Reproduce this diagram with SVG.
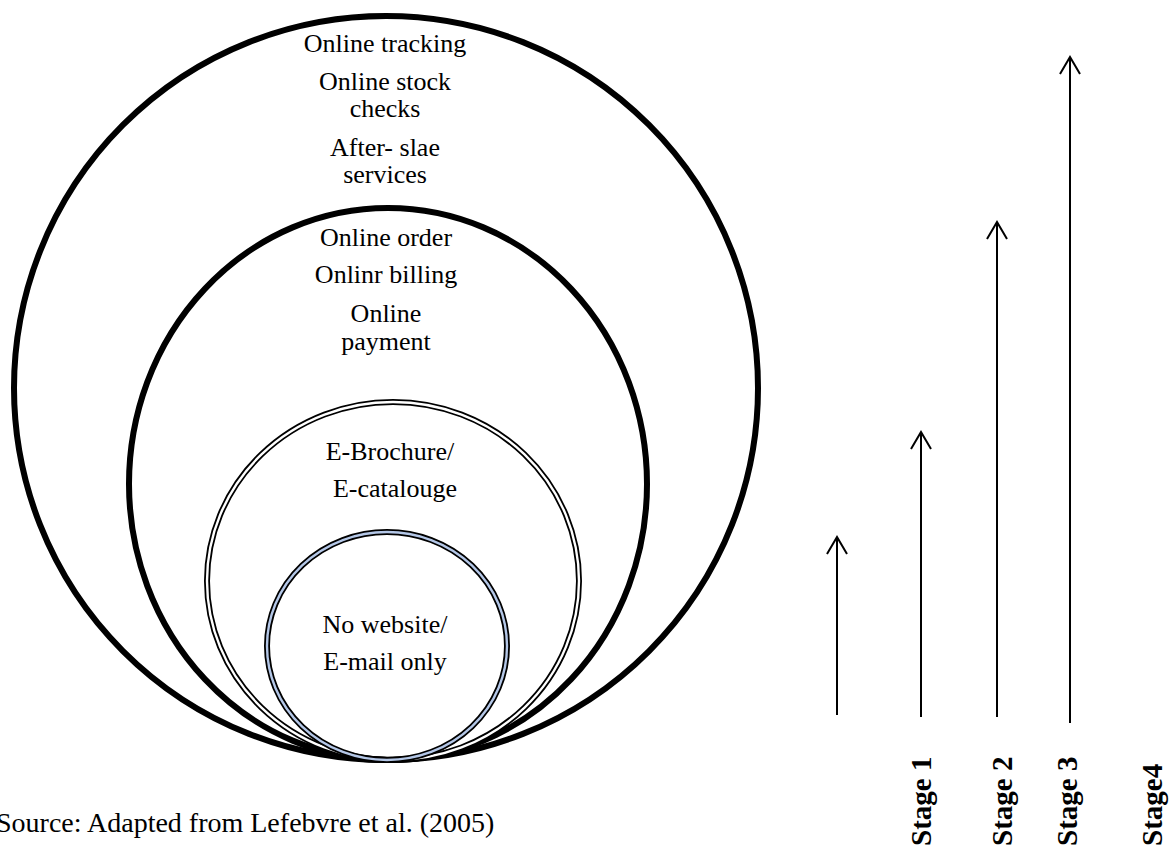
<svg xmlns="http://www.w3.org/2000/svg" width="1174" height="846" viewBox="0 0 1174 846">
  <defs>
    <marker id="ah" viewBox="0 0 20 22" refX="18" refY="11" markerWidth="20" markerHeight="22" markerUnits="userSpaceOnUse" orient="auto">
      <path d="M1,1 L18,11 L1,21" fill="none" stroke="#000" stroke-width="2"/>
    </marker>
  </defs>
  <style>
    text { font-family: "Liberation Serif", "Times New Roman", serif; font-size: 26px; fill: #000; }
    .c { text-anchor: middle; }
    .stage { font-weight: bold; font-size: 29px; }
    .src { font-size: 28px; }
    .thick { fill: none; stroke: #000; stroke-width: 6; }
    .arrow { fill: none; stroke: #000; stroke-width: 2; marker-end: url(#ah); }
  </style>
  <rect width="1174" height="846" fill="#fff"/>

  <g id="stage4-circle">
    <ellipse class="thick" cx="386" cy="388" rx="372" ry="372"/>
    <text class="c" x="385" y="52">Online tracking</text>
    <text class="c" x="385" y="90">Online stock</text>
    <text class="c" x="385" y="117">checks</text>
    <text class="c" x="385" y="156">After- slae</text>
    <text class="c" x="385" y="183">services</text>
  </g>

  <g id="stage3-circle">
    <ellipse class="thick" cx="388" cy="484" rx="259" ry="276"/>
    <text class="c" x="386" y="246">Online order</text>
    <text class="c" x="386" y="283">Onlinr billing</text>
    <text class="c" x="386" y="322">Online</text>
    <text class="c" x="386" y="350">payment</text>
  </g>

  <g id="stage2-circle">
    <ellipse cx="393" cy="581" rx="186" ry="179" fill="none" stroke="#000" stroke-width="6"/>
    <ellipse cx="393" cy="581" rx="186" ry="179" fill="none" stroke="#fff" stroke-width="2.4"/>
    <text class="c" x="390" y="460">E-Brochure/</text>
    <text class="c" x="395" y="497">E-catalouge</text>
  </g>

  <g id="stage1-circle">
    <ellipse cx="387" cy="646" rx="120" ry="114" fill="none" stroke="#000" stroke-width="6"/>
    <ellipse cx="387" cy="646" rx="120" ry="114" fill="none" stroke="#b4c7e7" stroke-width="2.4"/>
    <text class="c" x="385" y="633">No website/</text>
    <text class="c" x="385" y="670">E-mail only</text>
  </g>

  <g id="connectors">
    <line class="arrow" x1="837" y1="715" x2="837" y2="537" stroke-width="1.6"/>
    <line class="arrow" x1="921" y1="717" x2="921" y2="432"/>
    <line class="arrow" x1="997" y1="717" x2="997" y2="222"/>
    <line class="arrow" x1="1070" y1="723" x2="1070" y2="57"/>
  </g>

  <g id="stage-labels">
    <text class="stage" transform="translate(931,846) rotate(-90)">Stage 1</text>
    <text class="stage" transform="translate(1012,846) rotate(-90)">Stage 2</text>
    <text class="stage" transform="translate(1077,846) rotate(-90)">Stage 3</text>
    <text class="stage" transform="translate(1162,846) rotate(-90)">Stage4</text>
  </g>

  <g id="source">
    <text class="src" x="-4" y="832">Source: Adapted from Lefebvre et al. (2005)</text>
  </g>
</svg>
